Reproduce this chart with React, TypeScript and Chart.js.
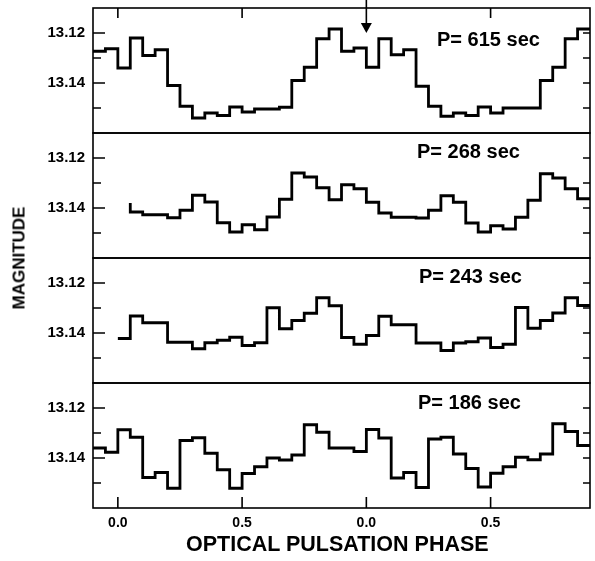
import React, { useEffect, useRef } from 'react';
import { Chart, registerables } from 'chart.js';

Chart.register(...registerables);

// ---------------- data ----------------
const periodLabels = ['P= 615 sec', 'P= 268 sec', 'P= 243 sec', 'P= 186 sec'];
const startPhase = [-0.1, 0.05, 0.0, -0.1];
const binWidth = 0.05;

const mag615 = [
  13.1273, 13.1263,
  13.134, 13.122, 13.129, 13.1267, 13.141, 13.1493, 13.154, 13.152, 13.153, 13.1496,
  13.1516, 13.1504, 13.1504, 13.1497, 13.139, 13.1337, 13.1223, 13.1184, 13.1273, 13.126,
  13.1337, 13.1223, 13.1287, 13.1267, 13.1413, 13.1493, 13.1533, 13.152, 13.153, 13.1496,
  13.152, 13.150, 13.150, 13.150, 13.139, 13.1337, 13.1223, 13.1184,
];
const lead268 = 13.138;
const mag268 = [
  13.1416, 13.1427, 13.1427, 13.1439, 13.1409, 13.1349, 13.1376, 13.1459, 13.1496, 13.1467,
  13.1487, 13.1436, 13.1365, 13.126, 13.1276, 13.1319, 13.1367, 13.1307, 13.1323,
  13.1377, 13.142, 13.1437, 13.1437, 13.144, 13.1409, 13.1351, 13.1377, 13.146, 13.1496,
  13.1471, 13.1484, 13.1437, 13.1369, 13.1263, 13.128, 13.1323, 13.1363,
];
const mag243 = [
  13.1422, 13.1332, 13.1359, 13.1359, 13.1437, 13.1437, 13.1463, 13.1439, 13.1429, 13.1417,
  13.145, 13.1439, 13.1299, 13.1383, 13.135, 13.1321, 13.1259, 13.1291, 13.1418, 13.1445,
  13.141, 13.1333, 13.1367, 13.1367, 13.144, 13.144, 13.147, 13.144, 13.1435, 13.142,
  13.1458, 13.1445, 13.1298, 13.1381, 13.135, 13.132, 13.1259, 13.129,
];
const mag186 = [
  13.136, 13.1377,
  13.1287, 13.1317, 13.1478, 13.1458, 13.1521, 13.133, 13.1319, 13.1381, 13.1447, 13.1521,
  13.1462, 13.1435, 13.14, 13.1408, 13.1388, 13.1267, 13.1297, 13.136, 13.136, 13.1374,
  13.1286, 13.132, 13.148, 13.1458, 13.1518, 13.1324, 13.1317, 13.1384, 13.1442, 13.1516,
  13.1461, 13.1435, 13.1397, 13.1407, 13.1384, 13.1263, 13.1294, 13.135,
];
const panelValues = [mag615, mag268, mag243, mag186];
const panelLeads: (number | undefined)[] = [undefined, lead268, undefined, undefined];

const majorMagTicks = [13.12, 13.14];
const minorMagTicks = [13.13, 13.15];
const phaseTicks = [0, 0.5, 1.0, 1.5];
const topPhaseTicks = [0, 0.5, 1.5];
const arrowPhase = 1.0;
const phaseMin = -0.1;
const phaseMax = 1.9;
const magMin = 13.11;
const magMax = 13.16;

// ---------------- layout ----------------
const W = 595;
const H = 561;
const OFF = 30;
const panelEdges = [8, 133, 258, 383, 508];
const plotLeft = 93;
const plotRight = 590;
const FONT = '"Liberation Sans", Arial, Helvetica, sans-serif';

function buildPoints(start: number, values: number[], lead?: number) {
  const pts: { x: number; y: number }[] = [];
  if (lead !== undefined) pts.push({ x: start, y: lead });
  values.forEach((v, k) => pts.push({ x: start + k * binWidth, y: v }));
  pts.push({ x: start + values.length * binWidth, y: values[values.length - 1] });
  return pts;
}

function makeFrame(index: number) {
  return {
    id: 'frame' + index,
    afterDraw(chart: any) {
      const { ctx, chartArea: a, scales } = chart;
      const ys = scales.y;
      const xs = scales.x;
      ctx.save();
      ctx.strokeStyle = '#000';
      ctx.lineWidth = 1.6;
      ctx.lineCap = 'butt';
      ctx.strokeRect(a.left, a.top, a.right - a.left, a.bottom - a.top);
      ctx.beginPath();
      majorMagTicks.forEach((v) => {
        const p = ys.getPixelForValue(v);
        ctx.moveTo(a.left, p);
        ctx.lineTo(a.left + 12, p);
        ctx.moveTo(a.right, p);
        ctx.lineTo(a.right - 7, p);
      });
      minorMagTicks.forEach((v) => {
        const p = ys.getPixelForValue(v);
        ctx.moveTo(a.left, p);
        ctx.lineTo(a.left + 8, p);
        ctx.moveTo(a.right, p);
        ctx.lineTo(a.right - 7, p);
      });
      if (index === 0) {
        topPhaseTicks.forEach((ph) => {
          const p = xs.getPixelForValue(ph);
          ctx.moveTo(p, a.top);
          ctx.lineTo(p, a.top + 10);
        });
      }
      if (index === 3) {
        phaseTicks.forEach((ph) => {
          const p = xs.getPixelForValue(ph);
          ctx.moveTo(p, a.bottom);
          ctx.lineTo(p, a.bottom - 11);
        });
      }
      ctx.stroke();
      if (index === 0) {
        const ax = xs.getPixelForValue(arrowPhase);
        ctx.beginPath();
        ctx.lineWidth = 1.6;
        ctx.moveTo(ax, a.top - 8);
        ctx.lineTo(ax, a.top + 16);
        ctx.stroke();
        ctx.beginPath();
        ctx.fillStyle = '#000';
        ctx.moveTo(ax - 5.5, a.top + 15);
        ctx.lineTo(ax + 5.5, a.top + 15);
        ctx.lineTo(ax, a.top + 25);
        ctx.closePath();
        ctx.fill();
      }
      ctx.restore();
    },
  };
}

function Panel({ index }: { index: number }) {
  const ref = useRef<HTMLCanvasElement | null>(null);
  useEffect(() => {
    if (!ref.current) return;
    const isBottom = index === 3;
    const top = panelEdges[index];
    const bottom = panelEdges[index + 1];
    const chart = new Chart(ref.current, {
      type: 'line',
      data: {
        datasets: [
          {
            data: buildPoints(startPhase[index], panelValues[index], panelLeads[index]),
            stepped: 'before',
            borderColor: '#000',
            borderWidth: 2.8,
            pointRadius: 0,
            fill: false,
            borderJoinStyle: 'miter',
            borderCapStyle: 'butt',
          } as any,
        ],
      },
      options: {
        responsive: false,
        animation: false,
        events: [],
        layout: {
          padding: {
            left: 0,
            right: W - plotRight,
            top: top + OFF,
            bottom: isBottom ? 0 : H - bottom,
          },
        },
        plugins: {
          legend: { display: false },
          tooltip: { enabled: false },
          title: { display: false },
        },
        scales: {
          x: {
            type: 'linear',
            min: phaseMin,
            max: phaseMax,
            display: isBottom,
            afterFit: (s: any) => {
              s.height = isBottom ? H - bottom : 0;
            },
            afterBuildTicks: (s: any) => {
              s.ticks = phaseTicks.map((v) => ({ value: v }));
            },
            ticks: {
              callback: (v: any) => (Number(v) % 1).toFixed(1),
              font: { family: FONT, size: 14, weight: 'bold' },
              color: '#000',
              padding: 7,
              maxRotation: 0,
              autoSkip: false,
            },
            grid: { display: false, drawTicks: false },
            border: { display: false },
          },
          y: {
            type: 'linear',
            min: magMin,
            max: magMax,
            reverse: true,
            afterFit: (s: any) => {
              s.width = plotLeft;
            },
            afterBuildTicks: (s: any) => {
              s.ticks = majorMagTicks.map((v) => ({ value: v }));
            },
            ticks: {
              callback: (v: any) => Number(v).toFixed(2),
              font: { family: FONT, size: 15, weight: 'bold' },
              color: '#000',
              padding: 8,
            },
            grid: { display: false, drawTicks: false },
            border: { display: false },
          },
        },
      } as any,
      plugins: [makeFrame(index)],
    });
    return () => chart.destroy();
  }, [index]);
  return (
    <canvas
      ref={ref}
      width={W}
      height={H + OFF}
      style={{ position: 'absolute', left: 0, top: -OFF, width: W, height: H + OFF }}
    />
  );
}

const labelPos = [
  { left: 437, top: 29 },
  { left: 417, top: 141 },
  { left: 419, top: 266 },
  { left: 418, top: 392 },
];

export default function App() {
  return (
    <div
      style={{
        position: 'absolute',
        left: 0,
        top: 0,
        width: W,
        height: H,
        background: '#fff',
        overflow: 'hidden',
        fontFamily: FONT,
        color: '#000',
      }}
    >
      {[0, 1, 2, 3].map((i) => (
        <Panel key={i} index={i} />
      ))}
      {periodLabels.map((t, i) => (
        <div
          key={t}
          style={{
            position: 'absolute',
            left: labelPos[i].left,
            top: labelPos[i].top,
            fontSize: 20,
            lineHeight: '20px',
            fontWeight: 'bold',
            whiteSpace: 'nowrap',
          }}
        >
          {t}
        </div>
      ))}
      <div
        style={{
          position: 'absolute',
          left: 19,
          top: 258,
          fontSize: 17,
          lineHeight: '17px',
          fontWeight: 'bold',
          whiteSpace: 'nowrap',
          transform: 'translate(-50%, -50%) rotate(-90deg)',
        }}
      >
        MAGNITUDE
      </div>
      <div
        style={{
          position: 'absolute',
          left: 186,
          top: 534,
          fontSize: 21.5,
          lineHeight: '21.5px',
          fontWeight: 'bold',
          whiteSpace: 'nowrap',
        }}
      >
        OPTICAL PULSATION PHASE
      </div>
    </div>
  );
}
